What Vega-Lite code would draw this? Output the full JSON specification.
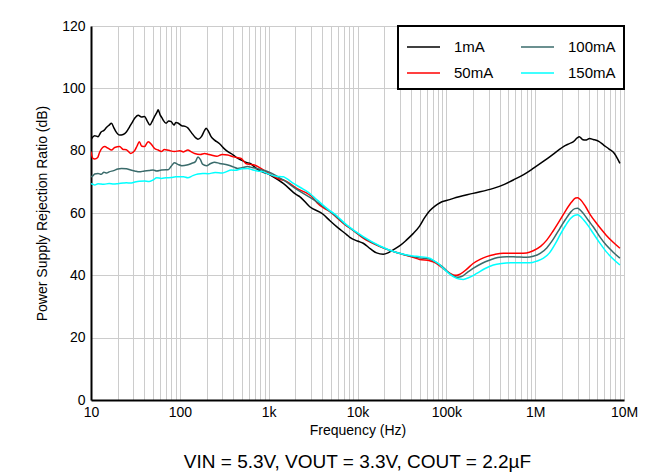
{
"$schema":"https://vega.github.io/schema/vega-lite/v6.json",
"width":533,"height":374,
"autosize":{"type":"none"},
"padding":{"left":91,"top":26,"right":39,"bottom":76},
"background":"white",
"title":{"text":"VIN = 5.3V, VOUT = 3.3V, COUT = 2.2µF","orient":"bottom","anchor":"middle","fontSize":19,"fontWeight":"normal","font":"Liberation Sans","color":"black","offset":16},
"config":{
 "font":"Liberation Sans",
 "view":{"stroke":null},
 "axis":{"labelFont":"Liberation Sans","titleFont":"Liberation Sans","labelFontSize":14,"titleFontSize":14,"titleFontWeight":"normal","labelColor":"black","titleColor":"black","domainColor":"black","domainWidth":2,"ticks":false,"gridColor":"#cccccc","gridWidth":1},
 "legend":{"orient":"top-right","offset":0,"columns":2,"symbolType":"M-1,0L1.75,0","symbolSize":576,"symbolStrokeWidth":1.5,"labelFont":"Liberation Sans","labelFontSize":15,"labelColor":"black","labelOffset":22,"columnPadding":24,"rowPadding":5,"padding":8,"strokeColor":"black","strokeWidth":2,"fillColor":"white"}
},
"data":{"values":[
{"s":"1mA","f":10,"v":83.6},{"s":"1mA","f":11,"v":84.8},{"s":"1mA","f":12,"v":84.5},{"s":"1mA","f":13,"v":86},{"s":"1mA","f":14,"v":86.5},{"s":"1mA","f":15,"v":87.5},{"s":"1mA","f":16,"v":88.2},{"s":"1mA","f":17,"v":88.8},{"s":"1mA","f":18,"v":87.5},{"s":"1mA","f":19,"v":86.2},{"s":"1mA","f":21,"v":85},{"s":"1mA","f":23,"v":85.2},{"s":"1mA","f":25,"v":86},{"s":"1mA","f":27,"v":87.5},{"s":"1mA","f":29,"v":89},{"s":"1mA","f":31,"v":90.4},{"s":"1mA","f":34,"v":91.4},{"s":"1mA","f":37,"v":90.8},{"s":"1mA","f":40,"v":91},{"s":"1mA","f":43,"v":89.5},{"s":"1mA","f":46,"v":88.2},{"s":"1mA","f":49,"v":89.5},{"s":"1mA","f":52,"v":91},{"s":"1mA","f":55,"v":92.2},{"s":"1mA","f":57,"v":93.1},{"s":"1mA","f":60,"v":91.5},{"s":"1mA","f":63,"v":90.5},{"s":"1mA","f":65,"v":89.8},{"s":"1mA","f":70,"v":88.8},{"s":"1mA","f":75,"v":89.5},{"s":"1mA","f":80,"v":89.3},{"s":"1mA","f":86,"v":88.2},{"s":"1mA","f":90,"v":89},{"s":"1mA","f":95,"v":88.9},{"s":"1mA","f":105,"v":88},{"s":"1mA","f":115,"v":87.8},{"s":"1mA","f":123,"v":87.3},{"s":"1mA","f":135,"v":85.8},{"s":"1mA","f":150,"v":84.2},{"s":"1mA","f":160,"v":83.7},{"s":"1mA","f":175,"v":84.5},{"s":"1mA","f":190,"v":86.5},{"s":"1mA","f":198,"v":87.2},{"s":"1mA","f":210,"v":86.2},{"s":"1mA","f":225,"v":84.5},{"s":"1mA","f":246,"v":83.4},{"s":"1mA","f":280,"v":82.2},{"s":"1mA","f":320,"v":80.5},{"s":"1mA","f":347,"v":79.7},{"s":"1mA","f":400,"v":78.6},{"s":"1mA","f":450,"v":77.5},{"s":"1mA","f":490,"v":77},{"s":"1mA","f":560,"v":76.2},{"s":"1mA","f":620,"v":75.9},{"s":"1mA","f":690,"v":74.8},{"s":"1mA","f":800,"v":73.5},{"s":"1mA","f":950,"v":72.7},{"s":"1mA","f":1100,"v":71.8},{"s":"1mA","f":1460,"v":69.5},{"s":"1mA","f":2070,"v":65.8},{"s":"1mA","f":2250,"v":65.2},{"s":"1mA","f":2900,"v":62},{"s":"1mA","f":4100,"v":59.6},{"s":"1mA","f":4900,"v":57.5},{"s":"1mA","f":6000,"v":55.3},{"s":"1mA","f":7600,"v":53},{"s":"1mA","f":8200,"v":52.2},{"s":"1mA","f":10000,"v":51},{"s":"1mA","f":11600,"v":50.3},{"s":"1mA","f":14000,"v":48.5},{"s":"1mA","f":16400,"v":47.2},{"s":"1mA","f":19500,"v":46.8},{"s":"1mA","f":22000,"v":47.2},{"s":"1mA","f":25000,"v":48.1},{"s":"1mA","f":30000,"v":49.5},{"s":"1mA","f":35500,"v":51.3},{"s":"1mA","f":42000,"v":53.3},{"s":"1mA","f":50000,"v":55.8},{"s":"1mA","f":57000,"v":58.5},{"s":"1mA","f":65000,"v":60.7},{"s":"1mA","f":75000,"v":62.3},{"s":"1mA","f":85000,"v":63.3},{"s":"1mA","f":100000,"v":64},{"s":"1mA","f":120000,"v":64.7},{"s":"1mA","f":200000,"v":66.3},{"s":"1mA","f":338000,"v":67.9},{"s":"1mA","f":450000,"v":69.2},{"s":"1mA","f":568000,"v":70.6},{"s":"1mA","f":750000,"v":72.4},{"s":"1mA","f":950000,"v":74.3},{"s":"1mA","f":1200000,"v":76.3},{"s":"1mA","f":1470000,"v":78.1},{"s":"1mA","f":1800000,"v":80},{"s":"1mA","f":2080000,"v":81.3},{"s":"1mA","f":2400000,"v":82.2},{"s":"1mA","f":2700000,"v":82.9},{"s":"1mA","f":2950000,"v":84},{"s":"1mA","f":3140000,"v":84.5},{"s":"1mA","f":3400000,"v":83.6},{"s":"1mA","f":3700000,"v":83.4},{"s":"1mA","f":4100000,"v":83.9},{"s":"1mA","f":4500000,"v":83.6},{"s":"1mA","f":5200000,"v":83},{"s":"1mA","f":5900000,"v":81.8},{"s":"1mA","f":6800000,"v":80.5},{"s":"1mA","f":7800000,"v":79.1},{"s":"1mA","f":8500000,"v":77.3},{"s":"1mA","f":9000000,"v":75.9},
{"s":"50mA","f":10,"v":79.7},{"s":"50mA","f":10.5,"v":77.5},{"s":"50mA","f":11,"v":77.3},{"s":"50mA","f":11.9,"v":77.8},{"s":"50mA","f":12.5,"v":79.5},{"s":"50mA","f":13.5,"v":81},{"s":"50mA","f":14.3,"v":81.3},{"s":"50mA","f":15.5,"v":80.8},{"s":"50mA","f":17,"v":80.2},{"s":"50mA","f":18.5,"v":81},{"s":"50mA","f":21,"v":81.3},{"s":"50mA","f":23,"v":80.4},{"s":"50mA","f":25,"v":80.3},{"s":"50mA","f":28,"v":79.1},{"s":"50mA","f":31,"v":80},{"s":"50mA","f":33,"v":81.5},{"s":"50mA","f":35,"v":82.9},{"s":"50mA","f":37,"v":81.5},{"s":"50mA","f":40,"v":81.3},{"s":"50mA","f":44,"v":82.9},{"s":"50mA","f":48,"v":82},{"s":"50mA","f":52,"v":80.7},{"s":"50mA","f":57,"v":80.2},{"s":"50mA","f":62,"v":79.7},{"s":"50mA","f":67,"v":80.4},{"s":"50mA","f":75,"v":80.1},{"s":"50mA","f":87,"v":79.7},{"s":"50mA","f":100,"v":80},{"s":"50mA","f":110,"v":79.6},{"s":"50mA","f":123,"v":80.2},{"s":"50mA","f":135,"v":79.6},{"s":"50mA","f":147,"v":79.1},{"s":"50mA","f":170,"v":78.8},{"s":"50mA","f":190,"v":79.1},{"s":"50mA","f":210,"v":78.8},{"s":"50mA","f":225,"v":78.6},{"s":"50mA","f":260,"v":78.2},{"s":"50mA","f":300,"v":78.8},{"s":"50mA","f":347,"v":78.6},{"s":"50mA","f":400,"v":78},{"s":"50mA","f":490,"v":77.5},{"s":"50mA","f":560,"v":75.8},{"s":"50mA","f":620,"v":75.6},{"s":"50mA","f":690,"v":75.4},{"s":"50mA","f":800,"v":74.5},{"s":"50mA","f":1000,"v":72.8},{"s":"50mA","f":1340,"v":70.8},{"s":"50mA","f":1460,"v":70.6},{"s":"50mA","f":2070,"v":67.9},{"s":"50mA","f":3200,"v":64.7},{"s":"50mA","f":3500,"v":63.3},{"s":"50mA","f":4900,"v":60.4},{"s":"50mA","f":7600,"v":55.8},{"s":"50mA","f":8200,"v":55.2},{"s":"50mA","f":11600,"v":51.9},{"s":"50mA","f":17900,"v":49.2},{"s":"50mA","f":27500,"v":47.3},{"s":"50mA","f":42000,"v":45.8},{"s":"50mA","f":50000,"v":45.1},{"s":"50mA","f":65000,"v":44.7},{"s":"50mA","f":71000,"v":44.3},{"s":"50mA","f":82000,"v":43.3},{"s":"50mA","f":92000,"v":42.2},{"s":"50mA","f":105000,"v":41},{"s":"50mA","f":120000,"v":40.1},{"s":"50mA","f":130000,"v":40},{"s":"50mA","f":143000,"v":40.4},{"s":"50mA","f":170000,"v":42},{"s":"50mA","f":200000,"v":43.8},{"s":"50mA","f":240000,"v":45.1},{"s":"50mA","f":284000,"v":46},{"s":"50mA","f":350000,"v":46.7},{"s":"50mA","f":437000,"v":47.1},{"s":"50mA","f":550000,"v":47.1},{"s":"50mA","f":675000,"v":47.1},{"s":"50mA","f":800000,"v":47.2},{"s":"50mA","f":950000,"v":47.9},{"s":"50mA","f":1150000,"v":49.3},{"s":"50mA","f":1350000,"v":51.3},{"s":"50mA","f":1600000,"v":54.3},{"s":"50mA","f":1900000,"v":57.7},{"s":"50mA","f":2200000,"v":60.7},{"s":"50mA","f":2570000,"v":63.5},{"s":"50mA","f":2850000,"v":64.8},{"s":"50mA","f":3000000,"v":64.9},{"s":"50mA","f":3200000,"v":64.4},{"s":"50mA","f":3700000,"v":62},{"s":"50mA","f":4200000,"v":59.3},{"s":"50mA","f":4900000,"v":56.7},{"s":"50mA","f":5600000,"v":54.6},{"s":"50mA","f":6300000,"v":52.9},{"s":"50mA","f":7500000,"v":50.7},{"s":"50mA","f":9000000,"v":48.7},
{"s":"100mA","f":10,"v":71.6},{"s":"100mA","f":10.5,"v":71.9},{"s":"100mA","f":11,"v":72.5},{"s":"100mA","f":12,"v":72.7},{"s":"100mA","f":13,"v":72.4},{"s":"100mA","f":14,"v":73.1},{"s":"100mA","f":15,"v":72.8},{"s":"100mA","f":16,"v":73.2},{"s":"100mA","f":18,"v":73.6},{"s":"100mA","f":20,"v":74.1},{"s":"100mA","f":22,"v":74.3},{"s":"100mA","f":25,"v":74.2},{"s":"100mA","f":28,"v":73.8},{"s":"100mA","f":31,"v":73.5},{"s":"100mA","f":35,"v":73.2},{"s":"100mA","f":40,"v":73.5},{"s":"100mA","f":45,"v":73.6},{"s":"100mA","f":50,"v":73.8},{"s":"100mA","f":55,"v":73.5},{"s":"100mA","f":62,"v":73.8},{"s":"100mA","f":70,"v":73.9},{"s":"100mA","f":74,"v":73.9},{"s":"100mA","f":80,"v":75},{"s":"100mA","f":87,"v":76.1},{"s":"100mA","f":95,"v":75.6},{"s":"100mA","f":105,"v":75.2},{"s":"100mA","f":120,"v":75.4},{"s":"100mA","f":135,"v":75.9},{"s":"100mA","f":150,"v":76.5},{"s":"100mA","f":160,"v":78},{"s":"100mA","f":170,"v":77.2},{"s":"100mA","f":180,"v":75.7},{"s":"100mA","f":200,"v":75.2},{"s":"100mA","f":220,"v":75.8},{"s":"100mA","f":246,"v":76.3},{"s":"100mA","f":280,"v":75.9},{"s":"100mA","f":347,"v":75.4},{"s":"100mA","f":400,"v":74.8},{"s":"100mA","f":446,"v":74.3},{"s":"100mA","f":500,"v":74.5},{"s":"100mA","f":580,"v":74.9},{"s":"100mA","f":650,"v":74.6},{"s":"100mA","f":750,"v":74.2},{"s":"100mA","f":840,"v":73.8},{"s":"100mA","f":1000,"v":73.2},{"s":"100mA","f":1340,"v":71.2},{"s":"100mA","f":1460,"v":70.6},{"s":"100mA","f":2070,"v":67.6},{"s":"100mA","f":3200,"v":64.3},{"s":"100mA","f":4900,"v":60.5},{"s":"100mA","f":7600,"v":55.9},{"s":"100mA","f":11600,"v":52.2},{"s":"100mA","f":17900,"v":49.3},{"s":"100mA","f":27500,"v":47.3},{"s":"100mA","f":42000,"v":46},{"s":"100mA","f":50000,"v":45.6},{"s":"100mA","f":65000,"v":45.2},{"s":"100mA","f":71000,"v":44.7},{"s":"100mA","f":82000,"v":43.6},{"s":"100mA","f":92000,"v":42.6},{"s":"100mA","f":105000,"v":41},{"s":"100mA","f":120000,"v":39.8},{"s":"100mA","f":135000,"v":39.4},{"s":"100mA","f":148000,"v":39.6},{"s":"100mA","f":170000,"v":40.8},{"s":"100mA","f":200000,"v":42.2},{"s":"100mA","f":250000,"v":43.8},{"s":"100mA","f":310000,"v":44.9},{"s":"100mA","f":380000,"v":45.7},{"s":"100mA","f":480000,"v":46},{"s":"100mA","f":620000,"v":45.9},{"s":"100mA","f":800000,"v":45.8},{"s":"100mA","f":950000,"v":46.1},{"s":"100mA","f":1150000,"v":47.1},{"s":"100mA","f":1350000,"v":48.8},{"s":"100mA","f":1600000,"v":51.6},{"s":"100mA","f":1900000,"v":55.1},{"s":"100mA","f":2200000,"v":58},{"s":"100mA","f":2500000,"v":60.2},{"s":"100mA","f":2800000,"v":61.4},{"s":"100mA","f":3000000,"v":61.5},{"s":"100mA","f":3200000,"v":61},{"s":"100mA","f":3500000,"v":59.8},{"s":"100mA","f":4000000,"v":57.5},{"s":"100mA","f":4500000,"v":55.6},{"s":"100mA","f":5300000,"v":52.5},{"s":"100mA","f":6300000,"v":49.7},{"s":"100mA","f":7500000,"v":47.5},{"s":"100mA","f":9000000,"v":45.5},
{"s":"150mA","f":10,"v":69.4},{"s":"150mA","f":10.5,"v":69.2},{"s":"150mA","f":11,"v":69},{"s":"150mA","f":12,"v":69.4},{"s":"150mA","f":13,"v":69.3},{"s":"150mA","f":14,"v":69.2},{"s":"150mA","f":16,"v":69.5},{"s":"150mA","f":18,"v":69.3},{"s":"150mA","f":20,"v":69.4},{"s":"150mA","f":23,"v":69.6},{"s":"150mA","f":25,"v":69.7},{"s":"150mA","f":28,"v":69.6},{"s":"150mA","f":30,"v":69.8},{"s":"150mA","f":35,"v":70.2},{"s":"150mA","f":40,"v":70.3},{"s":"150mA","f":45,"v":70.1},{"s":"150mA","f":50,"v":70.6},{"s":"150mA","f":55,"v":71.3},{"s":"150mA","f":62,"v":71.1},{"s":"150mA","f":70,"v":71.3},{"s":"150mA","f":80,"v":71.4},{"s":"150mA","f":90,"v":71.6},{"s":"150mA","f":110,"v":71.6},{"s":"150mA","f":123,"v":71.3},{"s":"150mA","f":140,"v":72},{"s":"150mA","f":160,"v":72.5},{"s":"150mA","f":180,"v":72.7},{"s":"150mA","f":208,"v":72.6},{"s":"150mA","f":250,"v":73},{"s":"150mA","f":300,"v":72.8},{"s":"150mA","f":330,"v":73.2},{"s":"150mA","f":380,"v":73.8},{"s":"150mA","f":420,"v":73.7},{"s":"150mA","f":500,"v":74.2},{"s":"150mA","f":580,"v":74.3},{"s":"150mA","f":650,"v":73.9},{"s":"150mA","f":750,"v":73.5},{"s":"150mA","f":870,"v":73.2},{"s":"150mA","f":1000,"v":72.5},{"s":"150mA","f":1200,"v":71.8},{"s":"150mA","f":1460,"v":71.6},{"s":"150mA","f":1600,"v":71},{"s":"150mA","f":1900,"v":69.5},{"s":"150mA","f":2400,"v":67.8},{"s":"150mA","f":2800,"v":66.6},{"s":"150mA","f":3500,"v":64.2},{"s":"150mA","f":4900,"v":60.7},{"s":"150mA","f":5400,"v":59.9},{"s":"150mA","f":7600,"v":56.1},{"s":"150mA","f":11600,"v":52.4},{"s":"150mA","f":17900,"v":49.4},{"s":"150mA","f":27500,"v":47.3},{"s":"150mA","f":42000,"v":46.2},{"s":"150mA","f":50000,"v":46},{"s":"150mA","f":65000,"v":45.5},{"s":"150mA","f":71000,"v":44.9},{"s":"150mA","f":82000,"v":43.7},{"s":"150mA","f":92000,"v":42.3},{"s":"150mA","f":105000,"v":40.8},{"s":"150mA","f":120000,"v":39.6},{"s":"150mA","f":140000,"v":38.8},{"s":"150mA","f":155000,"v":38.7},{"s":"150mA","f":180000,"v":39.3},{"s":"150mA","f":220000,"v":40.6},{"s":"150mA","f":270000,"v":42.1},{"s":"150mA","f":338000,"v":43.3},{"s":"150mA","f":420000,"v":43.8},{"s":"150mA","f":525000,"v":44},{"s":"150mA","f":700000,"v":44},{"s":"150mA","f":870000,"v":44},{"s":"150mA","f":1050000,"v":44.6},{"s":"150mA","f":1240000,"v":45.5},{"s":"150mA","f":1450000,"v":47.2},{"s":"150mA","f":1700000,"v":50.3},{"s":"150mA","f":1900000,"v":52.9},{"s":"150mA","f":2200000,"v":56},{"s":"150mA","f":2500000,"v":58.2},{"s":"150mA","f":2800000,"v":59.3},{"s":"150mA","f":3000000,"v":59.4},{"s":"150mA","f":3200000,"v":59},{"s":"150mA","f":3500000,"v":57.8},{"s":"150mA","f":4000000,"v":55.7},{"s":"150mA","f":4500000,"v":53.5},{"s":"150mA","f":5300000,"v":50.5},{"s":"150mA","f":6300000,"v":47.6},{"s":"150mA","f":7500000,"v":45.3},{"s":"150mA","f":9000000,"v":43.3}
]},
"mark":{"type":"line","strokeWidth":1.5,"interpolate":"monotone","clip":true},
"encoding":{
 "x":{"field":"f","type":"quantitative","scale":{"type":"log","domain":[10,10000000],"nice":false},
  "axis":{"title":"Frequency (Hz)","values":[10,20,30,40,50,60,70,80,90,100,200,300,400,500,600,700,800,900,1000,2000,3000,4000,5000,6000,7000,8000,9000,10000,20000,30000,40000,50000,60000,70000,80000,90000,100000,200000,300000,400000,500000,600000,700000,800000,900000,1000000,2000000,3000000,4000000,5000000,6000000,7000000,8000000,9000000,10000000],
   "labelExpr":"datum.value==10?'10':datum.value==100?'100':datum.value==1000?'1k':datum.value==10000?'10k':datum.value==100000?'100k':datum.value==1000000?'1M':datum.value==10000000?'10M':''",
   "labelOverlap":false,"labelFlush":false,"labelBound":false,"labelPadding":5,"titlePadding":4,"grid":true}},
 "y":{"field":"v","type":"quantitative","scale":{"domain":[0,120],"nice":false},
  "axis":{"title":"Power Supply Rejection Ratio (dB)","values":[0,20,40,60,80,100,120],"labelPadding":6,"titlePadding":12,"labelFlush":false,"grid":true}},
 "color":{"field":"s","type":"nominal","scale":{"domain":["1mA","50mA","100mA","150mA"],"range":["#000000","#ff0000","#3a6b6b","#00ffff"]},"legend":{"title":null}}
}
}
